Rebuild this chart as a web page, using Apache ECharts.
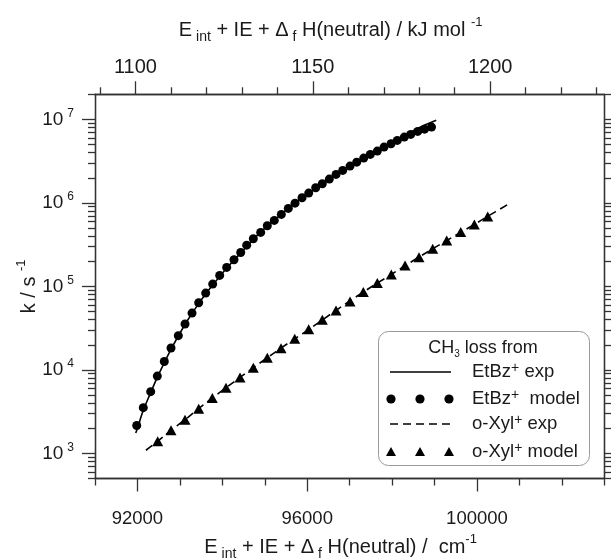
<!DOCTYPE html>
<html>
<head>
<meta charset="utf-8">
<script src="https://cdn.jsdelivr.net/npm/echarts@6.0.0/dist/echarts.min.js"></script>
<style>
html, body { margin: 0; padding: 0; background: #fff; }
#chart { width: 611px; height: 560px; }
</style>
</head>
<body>
<div id="chart"></div>
<script>
// EtBz+ model (circles), x in cm-1, k in s-1
const etbzModelX = [91983, 92138, 92312, 92468, 92633, 92791, 92963, 93121, 93286, 93443, 93608, 93773, 93938, 94103, 94275, 94433, 94574, 94730, 94904, 95060, 95225, 95390, 95555, 95713, 95878, 96035, 96200, 96356, 96521, 96679, 96837, 97009, 97166, 97331, 97487, 97652, 97810, 97975, 98123, 98288, 98439, 98604, 98764, 98929];
const etbzModelK = [2160, 3530, 5480, 8430, 12600, 18300, 25700, 35400, 47900, 63800, 83100, 106500, 135400, 168900, 208800, 255000, 312000, 372700, 443500, 533200, 617000, 728000, 859000, 994000, 1154000, 1311000, 1521000, 1698000, 1928000, 2194000, 2450000, 2759000, 3080000, 3440000, 3810000, 4173000, 4660000, 5117000, 5605000, 6140000, 6610000, 7180000, 7650000, 8100000];
// EtBz+ exp (solid line)
const etbzExpX = [91960, 92000, 92140, 92310, 92470, 92800, 93120, 93450, 93780, 94110, 94430, 94740, 95060, 95380, 95720, 96040, 96360, 96680, 97000, 97330, 97650, 97980, 98300, 98600, 98800, 99040];
const etbzExpK = [1750, 2000, 3300, 5300, 8200, 18000, 35000, 63000, 105000, 167000, 250000, 370000, 530000, 725000, 1000000, 1310000, 1710000, 2210000, 2800000, 3480000, 4250000, 5200000, 6400000, 7800000, 8700000, 9800000];
// o-Xyl+ model (triangles)
const oxylModelX = [92477, 92791, 93121, 93443, 93764, 94087, 94417, 94730, 95060, 95383, 95706, 96035, 96356, 96679, 97009, 97322, 97652, 97982, 98305, 98634, 98957, 99287, 99617, 99938, 100253];
const oxylModelK = [1400, 1890, 2530, 3430, 4600, 6120, 8130, 10600, 14000, 18200, 23600, 30600, 39900, 51600, 66100, 85500, 109500, 139000, 177500, 224000, 283000, 355000, 447000, 553000, 689000];
// o-Xyl+ exp (dashed line)
const oxylExpX = [92200, 92480, 92790, 93120, 93440, 94090, 94730, 95380, 96040, 96680, 97320, 97980, 98630, 99290, 99940, 100250, 100780];
const oxylExpK = [1090, 1400, 1890, 2530, 3430, 6120, 10600, 18200, 30600, 51600, 85500, 139000, 224000, 355000, 553000, 689000, 995000];

// ticks
const bottomTicks = [92000, 96000, 100000];
const bottomMinor = [91000, 93000, 94000, 95000, 97000, 98000, 99000, 101000, 102000, 103000];
const topTicks = [1100, 1150, 1200];
const topMinor = [1090, 1110, 1120, 1130, 1140, 1160, 1170, 1180, 1190, 1210, 1220, 1230];
const kTicks = [1e3, 1e4, 1e5, 1e6, 1e7];
const kMinor = [500, 600, 700, 800, 900,
  2e3, 3e3, 4e3, 5e3, 6e3, 7e3, 8e3, 9e3,
  2e4, 3e4, 4e4, 5e4, 6e4, 7e4, 8e4, 9e4,
  2e5, 3e5, 4e5, 5e5, 6e5, 7e5, 8e5, 9e5,
  2e6, 3e6, 4e6, 5e6, 6e6, 7e6, 8e6, 9e6,
  2e7];

const xMin = 91000, xMax = 103000;
const kMin = 500, kMax = 2e7;
const cmPerKJ = 83.5935;

const FONT = "'Liberation Sans', Arial, sans-serif";
const INK = '#1a1a1a';
const AX = '#333';

function zip(xs, ys) { return xs.map((x, i) => [x, ys[i]]); }

let chart = echarts.init(document.getElementById('chart'));

const lineSt = { color: AX, width: 1.3 };
// hidden labels still need customValues so the ticks land where we want
const blankLabel = (ticks) => ({ show: true, customValues: ticks, formatter: () => '', fontSize: 1 });

function xAx(pos, min, max, ticks, len, label, extra) {
  return Object.assign({
    type: 'value', position: pos, min: min, max: max,
    axisLine: { show: true, lineStyle: lineSt },
    axisTick: { show: true, customValues: ticks, length: len, lineStyle: lineSt },
    axisLabel: label ? {
      show: true, customValues: ticks, margin: label.margin, fontSize: label.size, color: INK, fontFamily: FONT,
      formatter: (v) => String(v)
    } : blankLabel(ticks),
    splitLine: { show: false }
  }, extra || {});
}
function yAx(pos, ticks, len, label, extra) {
  return Object.assign({
    type: 'log', logBase: 10, position: pos, min: kMin, max: kMax,
    axisLine: { show: true, lineStyle: lineSt },
    axisTick: { show: true, customValues: ticks, length: len, lineStyle: lineSt },
    axisLabel: label ? {
      show: true, customValues: ticks, margin: 21, fontFamily: FONT, color: INK,
      formatter: function (v) { return '{n|10}{e|' + Math.round(Math.log10(v)) + '}'; },
      rich: {
        n: { fontSize: 19, lineHeight: 24, fontFamily: FONT, color: INK },
        e: { fontSize: 12, lineHeight: 13, verticalAlign: 'top', padding: [0, 0, 0, 4], fontFamily: FONT, color: INK }
      }
    } : blankLabel(ticks),
    splitLine: { show: false }
  }, extra || {});
}

const titleRich = {
  a: { fontSize: 20, lineHeight: 28, fontFamily: FONT, color: INK },
  s: { fontSize: 14, lineHeight: 16, verticalAlign: 'bottom', fontFamily: FONT, color: INK },
  p: { fontSize: 13, lineHeight: 14, verticalAlign: 'top', fontFamily: FONT, color: INK }
};

function legendText(a, b) {
  return {
    text: '{a|' + a + '}{p|+}{a|' + b + '}', align: 'left', verticalAlign: 'middle',
    rich: {
      a: { fontSize: 18.5, lineHeight: 22, fontFamily: FONT, fill: INK },
      p: { fontSize: 14, lineHeight: 14, verticalAlign: 'top', fontFamily: FONT, fill: INK }
    }
  };
}

chart.setOption({
  backgroundColor: '#fff',
  animation: false,
  textStyle: { fontFamily: FONT },
  grid: { left: 95, right: 6.7, top: 94.3, bottom: 81.5, outerBoundsMode: 'none', containLabel: false },
  xAxis: [
    xAx('bottom', xMin, xMax, bottomTicks, 13, { margin: 31, size: 18.5 }, {
      name: '{a|E}{s| int}{a| + IE + Δ}{s| f}{a| H(neutral) /  cm}{p|-1}',
      nameLocation: 'middle', nameGap: 52,
      nameTextStyle: { rich: titleRich, padding: [0, 18, 0, 0] }
    }),
    xAx('bottom', xMin, xMax, bottomMinor, 7, null),
    xAx('top', xMin / cmPerKJ, xMax / cmPerKJ, topTicks, 13, { margin: 17, size: 20 }, {
      name: '{a|E}{s| int}{a| + IE + Δ}{s| f}{a| H(neutral) / kJ mol }{p|-1}',
      nameLocation: 'middle', nameGap: 50,
      nameTextStyle: { rich: titleRich, padding: [0, 38, 0, 0] }
    }),
    xAx('top', xMin / cmPerKJ, xMax / cmPerKJ, topMinor, 7, null)
  ],
  yAxis: [
    yAx('left', kTicks, 13, true, {
      name: '{a|k / s }{p|-1}', nameLocation: 'middle', nameGap: 52, nameRotate: 90,
      nameMoveOverlap: false,
      nameTextStyle: { rich: titleRich }
    }),
    yAx('left', kMinor, 7, false),
    yAx('right', kTicks, 13, false),
    yAx('right', kMinor, 7, false)
  ],
  series: [
    {
      name: 'EtBz+ exp', type: 'line', data: zip(etbzExpX, etbzExpK), smooth: 0.4,
      showSymbol: false, symbol: 'none', lineStyle: { color: '#000', width: 1.6 }, z: 3
    },
    {
      name: 'EtBz+ model', type: 'scatter', data: zip(etbzModelX, etbzModelK),
      symbol: 'circle', symbolSize: 9, itemStyle: { color: '#000', opacity: 1 }, z: 2
    },
    {
      name: 'o-Xyl+ exp', type: 'line', data: zip(oxylExpX, oxylExpK), smooth: 0.4,
      showSymbol: false, symbol: 'none', lineStyle: { color: '#000', width: 1.6, type: [8, 5] }, z: 3
    },
    {
      name: 'o-Xyl+ model', type: 'scatter', data: zip(oxylModelX, oxylModelK),
      symbol: 'triangle', symbolSize: [11, 10], itemStyle: { color: '#000', opacity: 1 }, z: 2
    }
  ],
  graphic: [
    { type: 'rect', shape: { x: 378.5, y: 331.5, width: 211, height: 134, r: 10 },
      style: { fill: '#fff', stroke: '#9a9a9a', lineWidth: 1 }, z: 10 },
    { type: 'text', x: 483, y: 348, z: 11, style: {
        text: '{a|CH}{s|3}{a| loss from}', align: 'center', verticalAlign: 'middle',
        rich: {
          a: { fontSize: 18, lineHeight: 22, fontFamily: FONT, fill: INK },
          s: { fontSize: 10, lineHeight: 12, verticalAlign: 'bottom', fontFamily: FONT, fill: INK }
        } } },
    { type: 'line', z: 11, shape: { x1: 390, y1: 372, x2: 451, y2: 372 }, style: { stroke: '#000', lineWidth: 1.6 } },
    { type: 'circle', z: 11, shape: { cx: 391, cy: 399, r: 4.6 }, style: { fill: '#000' } },
    { type: 'circle', z: 11, shape: { cx: 420, cy: 399, r: 4.6 }, style: { fill: '#000' } },
    { type: 'circle', z: 11, shape: { cx: 449, cy: 399, r: 4.6 }, style: { fill: '#000' } },
    { type: 'line', z: 11, shape: { x1: 390, y1: 424, x2: 451, y2: 424 }, style: { stroke: '#000', lineWidth: 1.6, lineDash: [8, 5] } },
    { type: 'polygon', z: 11, shape: { points: [[391, 447], [386, 456], [396, 456]] }, style: { fill: '#000' } },
    { type: 'polygon', z: 11, shape: { points: [[420, 447], [415, 456], [425, 456]] }, style: { fill: '#000' } },
    { type: 'polygon', z: 11, shape: { points: [[449, 447], [444, 456], [454, 456]] }, style: { fill: '#000' } },
    { type: 'text', z: 11, x: 472, y: 372, style: legendText('EtBz', ' exp') },
    { type: 'text', z: 11, x: 472, y: 399, style: legendText('EtBz', '  model') },
    { type: 'text', z: 11, x: 472, y: 424, style: legendText('o-Xyl', ' exp') },
    { type: 'text', z: 11, x: 472, y: 452, style: legendText('o-Xyl', ' model') }
  ]
});

window.onresize = function () { chart.resize(); };
</script>
</body>
</html>
